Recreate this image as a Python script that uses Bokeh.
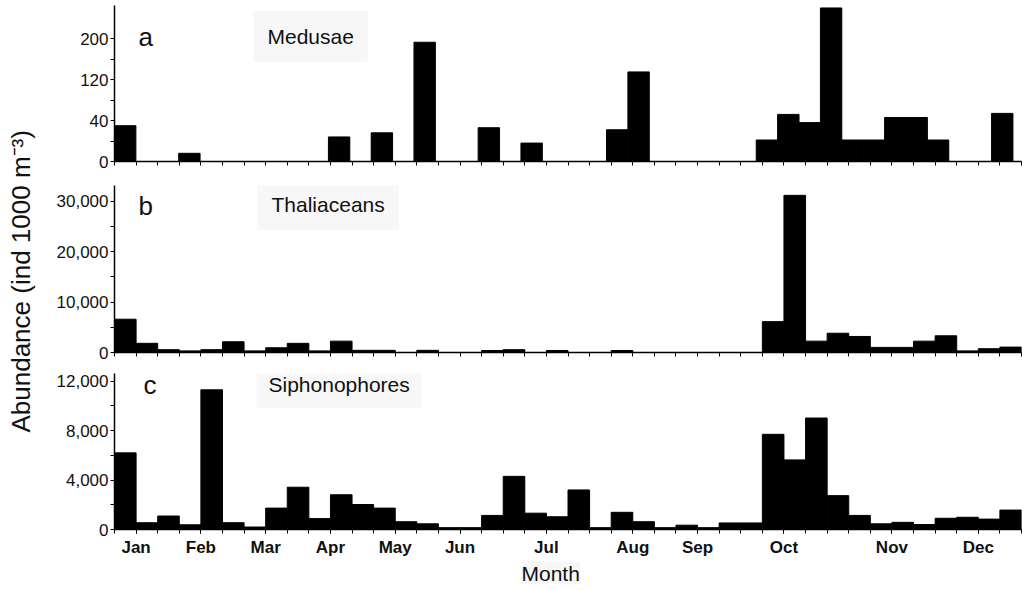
import numpy as np
from bokeh.plotting import figure
from bokeh.layouts import row, column
from bokeh.models import FixedTicker, Label, NumeralTickFormatter, Range1d, ColumnDataSource
from bokeh.embed import file_html
from bokeh.resources import INLINE

# ---------------- data ----------------
months = ["Jan", "Feb", "Mar", "Apr", "May", "Jun", "Jul", "Aug", "Sep", "Oct", "Nov", "Dec"]
month_tick_index = [1, 4, 7, 10, 13, 16, 20, 24, 27, 31, 36, 40]
n_samples = 42

medusae = [35, 0, 0, 8, 0, 0, 0, 0, 0, 0, 24, 0, 28, 0, 193, 0, 0, 33, 0, 18, 0,
           0, 0, 31, 135, 0, 0, 0, 0, 0, 21, 52, 38, 260, 21, 21, 46, 46, 21, 0, 0, 54]
thaliaceans = [6600, 1820, 560, 320, 560, 2130, 320, 940, 1820, 320, 2250, 430, 430, 0,
               430, 0, 0, 400, 560, 0, 400, 0, 0, 400, 0, 0, 0, 0, 0, 0,
               6120, 31160, 2250, 3820, 3180, 1010, 1010, 2250, 3310, 320, 750, 1070]
siphonophores = [6200, 550, 1090, 380, 11300, 550, 200, 1730, 3420, 880, 2810, 2020, 1730, 630,
                 460, 150, 150, 1140, 4300, 1320, 1030, 3200, 150, 1390, 630, 150, 350, 150,
                 530, 530, 7700, 5630, 9020, 2740, 1140, 460, 580, 400, 910, 990, 840, 1570]

medusae_ticks = [0, 40, 120, 200]          # broken (piecewise) axis of panel a
medusae_breaks = [0, 40, 120, 200, 280]
thal_ticks = [0, 10000, 20000, 30000]
thal_minor = [5000, 15000, 25000]
siph_ticks = [0, 4000, 8000, 12000]
siph_minor = [2000, 6000, 10000]

FONT = "Liberation Sans"
TITLE_W = 40
FIG_W = 982
LEFT = 74


def base_panel(height, top, bottom, x_end, y_end):
    p = figure(width=FIG_W, height=height, x_range=Range1d(0, x_end), y_range=Range1d(0, y_end),
               output_backend="svg", toolbar_location=None,
               min_border_left=LEFT, min_border_right=1, min_border_top=top, min_border_bottom=bottom)
    p.outline_line_color = None
    p.grid.visible = False
    p.background_fill_color = "white"
    p.border_fill_color = "white"
    for ax in (p.xaxis[0], p.yaxis[0]):
        ax.axis_line_color = "black"
        ax.axis_line_width = 1.5
        ax.major_tick_line_color = "black"
        ax.minor_tick_line_color = "black"
        ax.major_tick_in = 0
        ax.major_tick_out = 4
        ax.minor_tick_in = 0
        ax.minor_tick_out = 4
        ax.major_label_text_font = FONT
        ax.major_label_text_color = "#111111"
    p.yaxis.major_label_text_font_size = "17px"
    p.yaxis.major_label_standoff = 2
    # x ticks: one per sampling interval
    xt = [i * x_end / n_samples for i in range(n_samples + 1)]
    p.xaxis.ticker = FixedTicker(ticks=[], minor_ticks=xt)
    p.xaxis.major_label_text_font_size = "0px"
    p.xaxis.major_label_standoff = 0
    return p


def add_bars(p, values):
    src = ColumnDataSource(dict(x=[i + 0.5 for i in range(len(values))], top=values))
    p.vbar(x="x", width=1, top="top", bottom=0, source=src,
           fill_color="black", line_color="black", line_width=1)


def add_text(p, x, y, text, size, **kw):
    p.add_layout(Label(x=x, y=y, x_units="screen", y_units="screen", text=text,
                       text_font=FONT, text_font_size=size, text_color="#111111",
                       text_baseline="alphabetic", **kw))


# ---------------- panel a : Medusae (broken axis) ----------------
units = list(range(len(medusae_breaks)))
medusae_u = list(np.interp(medusae, medusae_breaks, units))
pa = base_panel(173, 5, 12, 42.4, 3.81)
add_bars(pa, medusae_u)
pa.yaxis.ticker = FixedTicker(ticks=list(range(len(medusae_ticks))),
                              minor_ticks=[i + 0.5 for i in range(len(medusae_ticks) - 1)])
pa.yaxis.major_label_overrides = {i: str(v) for i, v in enumerate(medusae_ticks)}
add_text(pa, 24, 125, "a", "26px")
add_text(pa, 139, 125, "Medusae", "21px", background_fill_color="#f7f7f7", padding=14)

# ---------------- panel b : Thaliaceans ----------------
pb = base_panel(189, 12, 10, 42.0, 33110)
add_bars(pb, thaliaceans)
pb.yaxis.ticker = FixedTicker(ticks=thal_ticks, minor_ticks=thal_minor)
pb.yaxis.formatter = NumeralTickFormatter(format="0,0")
add_text(pb, 24, 147, "b", "26px")
add_text(pb, 143, 148, "Thaliaceans", "21px", background_fill_color="#f7f7f7", padding=14)

# ---------------- panel c : Siphonophores ----------------
pc = base_panel(228, 11, 61, 42.0, 12620)
add_bars(pc, siphonophores)
pc.yaxis.ticker = FixedTicker(ticks=siph_ticks, minor_ticks=siph_minor)
pc.yaxis.formatter = NumeralTickFormatter(format="0,0")
pc.xaxis.ticker = FixedTicker(ticks=month_tick_index, minor_ticks=list(range(n_samples + 1)))
pc.xaxis.major_label_overrides = {i: m for i, m in zip(month_tick_index, months)}
pc.xaxis.major_label_text_font_size = "17px"
pc.xaxis.major_label_text_font_style = "bold"
pc.xaxis.major_label_standoff = 4
add_text(pc, 29, 145, "c", "26px")
add_text(pc, 142, 145, "Siphonophores", "21px", background_fill_color="#f7f7f7", padding=12)

# x-axis title "Month" (placed below the month labels)
pc.title.text = "Month"
pc.title_location = "below"
pc.title.align = "left"
pc.title.offset = 407
pc.title.standoff = 0
pc.title.text_font = FONT
pc.title.text_font_size = "21px"
pc.title.text_font_style = "normal"
pc.title.text_color = "#111111"
pc.title.background_fill_color = "#f7f7f7"

# ---------------- shared y-axis title ----------------
tf = figure(width=TITLE_W, height=590, x_range=Range1d(0, 1), y_range=Range1d(0, 1),
            output_backend="svg", toolbar_location=None,
            x_axis_location=None, y_axis_location=None, min_border=0)
tf.outline_line_color = None
tf.grid.visible = False
tf.add_layout(Label(x=0.5, y=0.524, text="Abundance (ind 1000 m\u207b\u00b3)", angle=90, angle_units="deg",
                    text_align="center", text_baseline="middle", text_font=FONT,
                    text_font_size="26px", text_color="#111111"))

layout = row(tf, column(pa, pb, pc))
open("out.html", "w").write(file_html(layout, INLINE))
